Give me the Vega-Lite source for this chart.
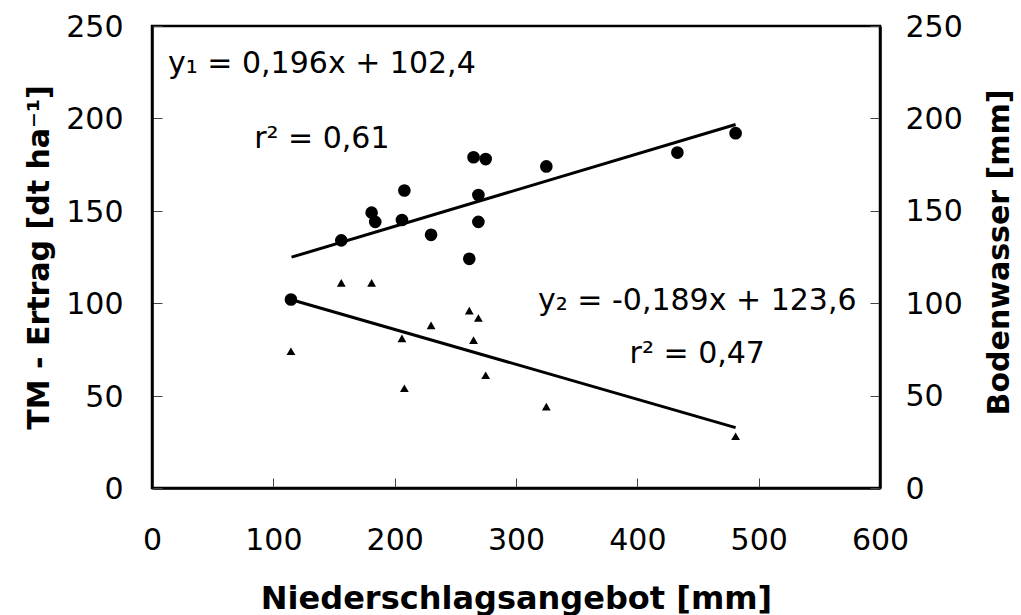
{
  "$schema": "https://vega.github.io/schema/vega-lite/v6.json",
  "width": 728,
  "height": 462,
  "autosize": {"type": "none"},
  "padding": {"left": 152, "top": 26, "right": 141, "bottom": 127},
  "background": "white",
  "config": {
    "view": {"stroke": "black", "strokeWidth": 2.5},
    "font": "DejaVu Sans",
    "axis": {
      "grid": false,
      "domainColor": "black",
      "domainWidth": 2.5,
      "tickColor": "#444444",
      "tickWidth": 1,
      "tickSize": -10,
      "labelFont": "DejaVu Sans",
      "labelFontSize": 30,
      "labelColor": "black",
      "labelFlush": false,
      "labelOverlap": false,
      "titleFont": "DejaVu Sans",
      "titleFontSize": 30,
      "titleFontWeight": "bold",
      "titleColor": "black"
    }
  },
  "datasets": {
    "ertrag": [
      {"niederschlag": 114.5, "wert": 102},
      {"niederschlag": 156, "wert": 134},
      {"niederschlag": 181, "wert": 149},
      {"niederschlag": 184, "wert": 144},
      {"niederschlag": 208, "wert": 161},
      {"niederschlag": 206, "wert": 145},
      {"niederschlag": 230, "wert": 137},
      {"niederschlag": 261.5, "wert": 124},
      {"niederschlag": 265, "wert": 179},
      {"niederschlag": 275, "wert": 178},
      {"niederschlag": 269, "wert": 158.5},
      {"niederschlag": 269, "wert": 144},
      {"niederschlag": 325, "wert": 174},
      {"niederschlag": 433, "wert": 181.5},
      {"niederschlag": 481, "wert": 192}
    ],
    "boden": [
      {"niederschlag": 114.5, "wert": 74},
      {"niederschlag": 156, "wert": 111},
      {"niederschlag": 181, "wert": 111},
      {"niederschlag": 206, "wert": 81},
      {"niederschlag": 208, "wert": 54},
      {"niederschlag": 230, "wert": 88},
      {"niederschlag": 261.5, "wert": 96},
      {"niederschlag": 265, "wert": 80},
      {"niederschlag": 269, "wert": 92},
      {"niederschlag": 275, "wert": 61},
      {"niederschlag": 325, "wert": 44},
      {"niederschlag": 481, "wert": 28}
    ],
    "fit1": [
      {"niederschlag": 115, "wert": 124.9},
      {"niederschlag": 481, "wert": 196.7}
    ],
    "fit2": [
      {"niederschlag": 115, "wert": 101.9},
      {"niederschlag": 481, "wert": 32.7}
    ],
    "labels": [
      {"niederschlag": 140, "wert": 224.6, "text": "y₁ = 0,196x + 102,4"},
      {"niederschlag": 140, "wert": 184, "text": "r² = 0,61"},
      {"niederschlag": 449.4, "wert": 96.3, "text": "y₂ = -0,189x + 123,6"},
      {"niederschlag": 449.4, "wert": 67.5, "text": "r² = 0,47"}
    ]
  },
  "layer": [
    {
      "layer": [
        {
          "data": {"name": "ertrag"},
          "mark": {"type": "point", "shape": "circle", "filled": true, "color": "black", "size": 160, "opacity": 1},
          "encoding": {
            "x": {
              "field": "niederschlag", "type": "quantitative",
              "scale": {"domain": [0, 600], "nice": false},
              "axis": {
                "title": "Niederschlagsangebot [mm]",
                "values": [0, 100, 200, 300, 400, 500, 600],
                "labelPadding": 47,
                "titleX": 364, "titleY": 120,
                "titleBaseline": "alphabetic", "titleAlign": "center",
                "titleFontSize": 32
              }
            },
            "y": {
              "field": "wert", "type": "quantitative",
              "scale": {"domain": [0, 250], "nice": false},
              "axis": {
                "title": "TM - Ertrag [dt ha⁻¹]",
                "orient": "left",
                "values": [0, 50, 100, 150, 200, 250],
                "labelPadding": 39,
                "labelOffset": 1.5,
                "titleX": -104, "titleY": 231,
                "titleAngle": -90,
                "titleBaseline": "alphabetic", "titleAlign": "center"
              }
            }
          }
        },
        {
          "data": {"name": "fit1"},
          "mark": {"type": "line", "color": "black", "strokeWidth": 3},
          "encoding": {
            "x": {"field": "niederschlag", "type": "quantitative"},
            "y": {"field": "wert", "type": "quantitative"}
          }
        },
        {
          "data": {"name": "labels"},
          "mark": {"type": "text", "font": "DejaVu Sans", "fontSize": 30, "color": "black", "align": "center", "baseline": "alphabetic"},
          "encoding": {
            "x": {"field": "niederschlag", "type": "quantitative"},
            "y": {"field": "wert", "type": "quantitative"},
            "text": {"field": "text"}
          }
        }
      ]
    },
    {
      "layer": [
        {
          "data": {"name": "boden"},
          "mark": {"type": "point", "shape": "triangle-up", "filled": true, "color": "black", "size": 78, "opacity": 1},
          "encoding": {
            "x": {"field": "niederschlag", "type": "quantitative"},
            "y": {
              "field": "wert", "type": "quantitative",
              "scale": {"domain": [0, 250], "nice": false},
              "axis": {
                "title": "Bodenwasser [mm]",
                "orient": "right",
                "values": [0, 50, 100, 150, 200, 250],
                "labelPadding": 35,
                "labelOffset": 1,
                "titleX": 128, "titleY": 226,
                "titleAngle": -90,
                "titleBaseline": "alphabetic", "titleAlign": "center"
              }
            }
          }
        },
        {
          "data": {"name": "fit2"},
          "mark": {"type": "line", "color": "black", "strokeWidth": 3},
          "encoding": {
            "x": {"field": "niederschlag", "type": "quantitative"},
            "y": {"field": "wert", "type": "quantitative"}
          }
        }
      ]
    }
  ],
  "resolve": {"scale": {"y": "independent"}}
}
